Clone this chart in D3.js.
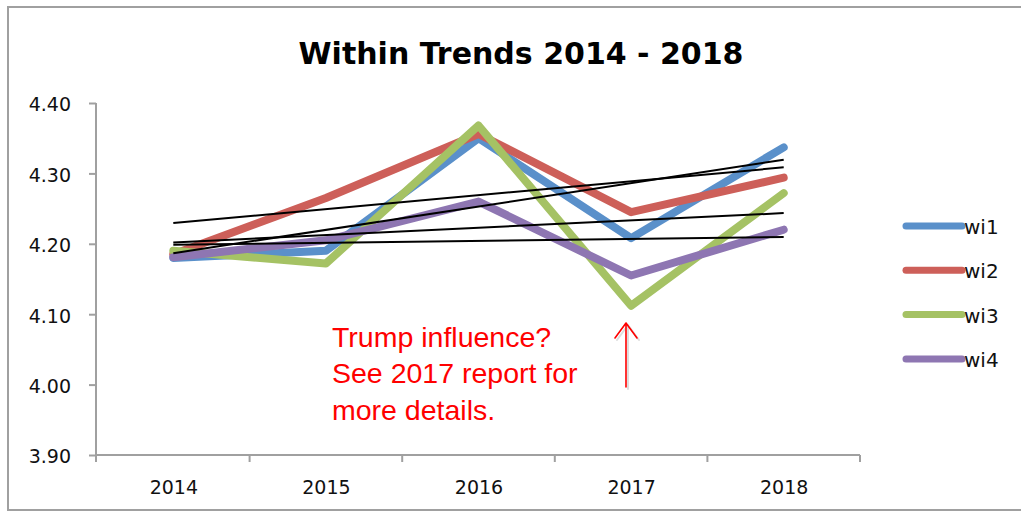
<!DOCTYPE html>
<html>
<head>
<meta charset="utf-8">
<script src="https://cdn.jsdelivr.net/npm/d3@7"></script>
<style>
  html, body { margin: 0; padding: 0; background: #fff; }
  svg { display: block; }
</style>
</head>
<body>
<svg id="chart" width="1021" height="513"></svg>
<script>
// Survey years and the four "within" indicators
const years = ["2014", "2015", "2016", "2017", "2018"];
const wi1 = [4.180, 4.190, 4.350, 4.208, 4.337];
const wi2 = [4.185, 4.265, 4.356, 4.245, 4.294];
const wi3 = [4.190, 4.172, 4.368, 4.112, 4.272];
const wi4 = [4.181, 4.205, 4.260, 4.155, 4.220];
const seriesNames = ["wi1", "wi2", "wi3", "wi4"];
const yTicks = [3.90, 4.00, 4.10, 4.20, 4.30, 4.40];
const titleText = "Within Trends 2014 - 2018";
const noteLines = ["Trump influence?", "See 2017 report for", "more details."];

const colors = ["#5a90ca", "#cd5f59", "#a5c264", "#8e76b2"];
const seriesValues = [wi1, wi2, wi3, wi4];

const svg = d3.select("#chart");

// outer frame
svg.append("rect")
  .attr("x", 8).attr("y", 7)
  .attr("width", 1040).attr("height", 503)
  .attr("fill", "none").attr("stroke", "#a0a0a0").attr("stroke-width", 2);

// plot area
const plotLeft = 97, plotRight = 860, plotTop = 103, plotBottom = 455;

const xBand = d3.scaleBand().domain(years).range([plotLeft, plotRight]).padding(0);
const x = d3.scalePoint().domain(years).range([plotLeft, plotRight]).padding(0.5);
const y = d3.scaleLinear().domain([3.9, 4.4]).range([plotBottom, plotTop]);

const axisColor = "#a0a0a0";
const tickFont = "'DejaVu Sans', Verdana, sans-serif";

// y axis
const yAxis = svg.append("g")
  .attr("transform", `translate(${plotLeft - 1},0)`)
  .call(d3.axisLeft(y).tickValues(yTicks).tickSize(7).tickSizeOuter(0).tickPadding(18)
    .tickFormat(d3.format(".2f")));
yAxis.select(".domain").remove();
yAxis.selectAll(".tick line").attr("stroke", axisColor).attr("stroke-width", 2);
yAxis.selectAll(".tick text")
  .attr("font-family", tickFont).attr("font-size", 19).attr("fill", "#111")
  .attr("dy", "0.42em");
svg.append("line")
  .attr("x1", plotLeft - 1).attr("x2", plotLeft - 1)
  .attr("y1", plotTop).attr("y2", plotBottom + 7)
  .attr("stroke", axisColor).attr("stroke-width", 2);

// x axis
const xAxis = svg.append("g")
  .attr("transform", `translate(0,${plotBottom})`)
  .call(d3.axisBottom(x).tickSize(0).tickPadding(26));
xAxis.select(".domain").remove();
xAxis.selectAll(".tick text")
  .attr("font-family", tickFont).attr("font-size", 19).attr("fill", "#111");
svg.append("line")
  .attr("x1", plotLeft - 1).attr("x2", plotRight)
  .attr("y1", plotBottom).attr("y2", plotBottom)
  .attr("stroke", axisColor).attr("stroke-width", 2);
// boundary ticks between categories
const boundaries = years.map(d => xBand(d)).concat([xBand(years[years.length - 1]) + xBand.bandwidth()]);
svg.append("g").selectAll("line")
  .data(boundaries.slice(1))
  .join("line")
  .attr("x1", d => d).attr("x2", d => d)
  .attr("y1", plotBottom).attr("y2", plotBottom + 7)
  .attr("stroke", axisColor).attr("stroke-width", 2);

// series lines
const line = d3.line()
  .x((d, i) => x(years[i]))
  .y(d => y(d));

svg.append("g").selectAll("path")
  .data(seriesValues)
  .join("path")
  .attr("d", d => line(d))
  .attr("fill", "none")
  .attr("stroke", (d, i) => colors[i])
  .attr("stroke-width", 8)
  .attr("stroke-linejoin", "round")
  .attr("stroke-linecap", "round");

// least-squares trend line for each series
function trend(values) {
  const n = values.length;
  const xs = values.map((d, i) => i);
  const mx = d3.mean(xs), my = d3.mean(values);
  const slope = d3.sum(xs, (xi, i) => (xi - mx) * (values[i] - my)) / d3.sum(xs, xi => (xi - mx) ** 2);
  const icpt = my - slope * mx;
  return [icpt, icpt + slope * (n - 1)];
}

svg.append("g").selectAll("line")
  .data(seriesValues.map(trend))
  .join("line")
  .attr("x1", x(years[0])).attr("x2", x(years[years.length - 1]))
  .attr("y1", d => y(d[0])).attr("y2", d => y(d[1]))
  .attr("stroke", "#000").attr("stroke-width", 2);

// title
svg.append("text")
  .attr("x", 521).attr("y", 64)
  .attr("text-anchor", "middle")
  .attr("font-family", "'DejaVu Sans', sans-serif")
  .attr("font-weight", "bold").attr("font-size", 30)
  .attr("fill", "#000")
  .text(titleText);

// legend
const legend = svg.append("g").selectAll("g")
  .data(seriesNames)
  .join("g")
  .attr("transform", (d, i) => `translate(906,${226 + i * 44.3})`);
legend.append("line")
  .attr("x1", 0).attr("x2", 56).attr("y1", 0).attr("y2", 0)
  .attr("stroke", (d, i) => colors[i])
  .attr("stroke-width", 7).attr("stroke-linecap", "round");
legend.append("text")
  .attr("x", 58).attr("y", 8)
  .attr("font-family", tickFont).attr("font-size", 20).attr("fill", "#111")
  .text(d => d);

// annotation
svg.append("g").selectAll("text")
  .data(noteLines)
  .join("text")
  .attr("x", 332).attr("y", (d, i) => 346.5 + i * 36.7)
  .attr("font-family", "'Liberation Sans', Arial, sans-serif")
  .attr("font-size", 28.5).attr("fill", "#ff0000")
  .text(d => d);

// arrow pointing to the 2017 dip
const ax = 626;
const arrow = svg.append("g")
  .attr("fill", "none").attr("stroke-linecap", "round").attr("stroke-linejoin", "round");
arrow.append("path")
  .attr("d", `M${ax + 2},389 L${ax + 2},325 M${ax - 9},340 L${ax + 2},325 L${ax + 13},340`)
  .attr("stroke", "#bbb").attr("stroke-width", 2).attr("opacity", 0.5);
arrow.append("path")
  .attr("d", `M${ax},387 L${ax},323 M${ax - 11},338 L${ax},323 L${ax + 11},338`)
  .attr("stroke", "#ff0000").attr("stroke-width", 1.6);
</script>
</body>
</html>
